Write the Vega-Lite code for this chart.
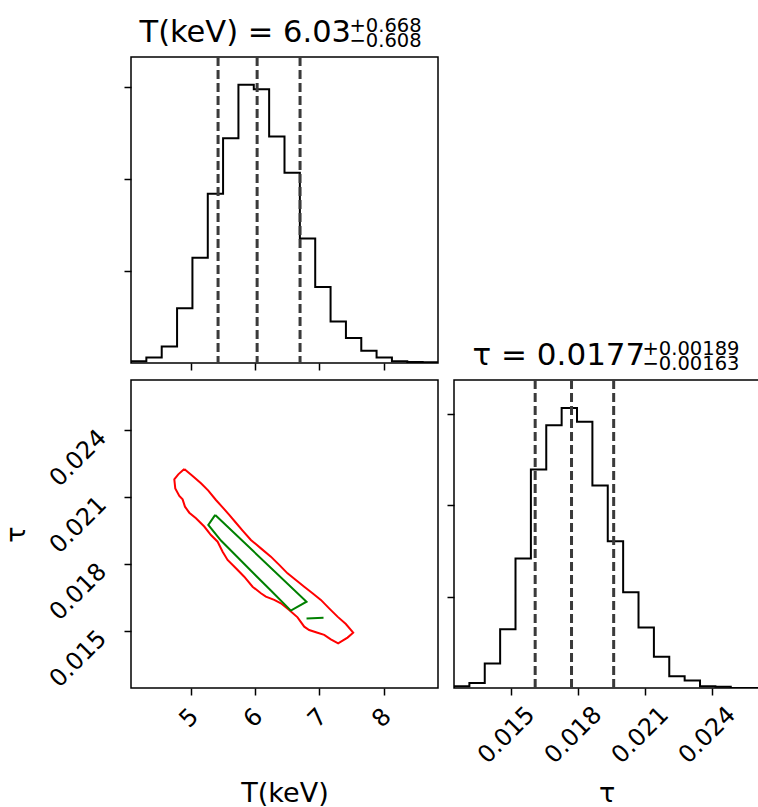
{
  "$schema": "https://vega.github.io/schema/vega-lite/v6.json",
  "padding": {"left": 1, "top": 14, "right": 0, "bottom": 0},
  "config": {
    "font": "DejaVu Sans",
    "view": {"stroke": "black", "strokeWidth": 1.5},
    "axis": {
      "grid": false, "domain": false,
      "tickColor": "black", "tickSize": 7, "tickWidth": 1.5,
      "labelFont": "DejaVu Sans", "labelFontSize": 24, "labelColor": "black",
      "labelOverlap": false, "labelFlush": false, "labelBound": false,
      "titleFont": "DejaVu Sans", "titleFontSize": 27, "titleFontWeight": "normal", "titleColor": "black"
    }
  },
  "datasets": {
    "T_hist": [
      {"i": 0, "edge": 4.067, "count": 0},
      {"i": 1, "edge": 4.067, "count": 18},
      {"i": 2, "edge": 4.306, "count": 61},
      {"i": 3, "edge": 4.545, "count": 181},
      {"i": 4, "edge": 4.784, "count": 596},
      {"i": 5, "edge": 5.023, "count": 1146},
      {"i": 6, "edge": 5.262, "count": 1843},
      {"i": 7, "edge": 5.500, "count": 2447},
      {"i": 8, "edge": 5.739, "count": 3029},
      {"i": 9, "edge": 5.978, "count": 2982},
      {"i": 10, "edge": 6.217, "count": 2465},
      {"i": 11, "edge": 6.456, "count": 2071},
      {"i": 12, "edge": 6.695, "count": 1355},
      {"i": 13, "edge": 6.934, "count": 828},
      {"i": 14, "edge": 7.173, "count": 452},
      {"i": 15, "edge": 7.412, "count": 271},
      {"i": 16, "edge": 7.651, "count": 134},
      {"i": 17, "edge": 7.889, "count": 61},
      {"i": 18, "edge": 8.128, "count": 18},
      {"i": 19, "edge": 8.367, "count": 11},
      {"i": 20, "edge": 8.606, "count": 7},
      {"i": 21, "edge": 8.845, "count": 0}
    ],
    "tau_hist": [
      {"i": 0, "edge": 0.01243, "count": 0},
      {"i": 1, "edge": 0.01243, "count": 18},
      {"i": 2, "edge": 0.01312, "count": 55},
      {"i": 3, "edge": 0.013809, "count": 269},
      {"i": 4, "edge": 0.014499, "count": 644},
      {"i": 5, "edge": 0.015188, "count": 1417},
      {"i": 6, "edge": 0.015878, "count": 2392},
      {"i": 7, "edge": 0.016567, "count": 2878},
      {"i": 8, "edge": 0.017257, "count": 3066},
      {"i": 9, "edge": 0.017946, "count": 2915},
      {"i": 10, "edge": 0.018636, "count": 2219},
      {"i": 11, "edge": 0.019325, "count": 1608},
      {"i": 12, "edge": 0.020015, "count": 1049},
      {"i": 13, "edge": 0.020704, "count": 662},
      {"i": 14, "edge": 0.021394, "count": 342},
      {"i": 15, "edge": 0.022083, "count": 129},
      {"i": 16, "edge": 0.022773, "count": 81},
      {"i": 17, "edge": 0.023462, "count": 18},
      {"i": 18, "edge": 0.024152, "count": 15},
      {"i": 19, "edge": 0.024841, "count": 0},
      {"i": 20, "edge": 0.02622, "count": 0}
    ],
    "T_q": [{"q": 5.422}, {"q": 6.03}, {"q": 6.698}],
    "tau_q": [{"q": 0.01607}, {"q": 0.0177}, {"q": 0.01959}],
    "contours": [
      {"path": "r", "level": "outer", "i": 0, "T": 4.896, "tau": 0.02225},
      {"path": "r", "level": "outer", "i": 1, "T": 5.026, "tau": 0.02194},
      {"path": "r", "level": "outer", "i": 2, "T": 5.156, "tau": 0.02161},
      {"path": "r", "level": "outer", "i": 3, "T": 5.270, "tau": 0.02128},
      {"path": "r", "level": "outer", "i": 4, "T": 5.389, "tau": 0.02086},
      {"path": "r", "level": "outer", "i": 5, "T": 5.493, "tau": 0.02053},
      {"path": "r", "level": "outer", "i": 6, "T": 5.596, "tau": 0.02019},
      {"path": "r", "level": "outer", "i": 7, "T": 5.700, "tau": 0.01984},
      {"path": "r", "level": "outer", "i": 8, "T": 5.804, "tau": 0.01949},
      {"path": "r", "level": "outer", "i": 9, "T": 5.933, "tau": 0.01907},
      {"path": "r", "level": "outer", "i": 10, "T": 6.089, "tau": 0.01869},
      {"path": "r", "level": "outer", "i": 11, "T": 6.244, "tau": 0.01832},
      {"path": "r", "level": "outer", "i": 12, "T": 6.374, "tau": 0.01795},
      {"path": "r", "level": "outer", "i": 13, "T": 6.503, "tau": 0.01757},
      {"path": "r", "level": "outer", "i": 14, "T": 6.633, "tau": 0.01727},
      {"path": "r", "level": "outer", "i": 15, "T": 6.763, "tau": 0.01697},
      {"path": "r", "level": "outer", "i": 16, "T": 6.892, "tau": 0.01668},
      {"path": "r", "level": "outer", "i": 17, "T": 7.022, "tau": 0.01638},
      {"path": "r", "level": "outer", "i": 18, "T": 7.151, "tau": 0.01600},
      {"path": "r", "level": "outer", "i": 19, "T": 7.281, "tau": 0.01563},
      {"path": "r", "level": "outer", "i": 20, "T": 7.411, "tau": 0.01530},
      {"path": "r", "level": "outer", "i": 21, "T": 7.525, "tau": 0.01491},
      {"path": "r", "level": "outer", "i": 22, "T": 7.437, "tau": 0.01469},
      {"path": "r", "level": "outer", "i": 23, "T": 7.291, "tau": 0.01443},
      {"path": "r", "level": "outer", "i": 24, "T": 7.177, "tau": 0.01461},
      {"path": "r", "level": "outer", "i": 25, "T": 7.074, "tau": 0.01481},
      {"path": "r", "level": "outer", "i": 26, "T": 6.970, "tau": 0.01491},
      {"path": "r", "level": "outer", "i": 27, "T": 6.840, "tau": 0.01503},
      {"path": "r", "level": "outer", "i": 28, "T": 6.763, "tau": 0.01518},
      {"path": "r", "level": "outer", "i": 29, "T": 6.659, "tau": 0.01560},
      {"path": "r", "level": "outer", "i": 30, "T": 6.529, "tau": 0.01593},
      {"path": "r", "level": "outer", "i": 31, "T": 6.400, "tau": 0.01623},
      {"path": "r", "level": "outer", "i": 32, "T": 6.296, "tau": 0.01638},
      {"path": "r", "level": "outer", "i": 33, "T": 6.166, "tau": 0.01653},
      {"path": "r", "level": "outer", "i": 34, "T": 6.089, "tau": 0.01668},
      {"path": "r", "level": "outer", "i": 35, "T": 5.959, "tau": 0.01697},
      {"path": "r", "level": "outer", "i": 36, "T": 5.829, "tau": 0.01742},
      {"path": "r", "level": "outer", "i": 37, "T": 5.700, "tau": 0.01780},
      {"path": "r", "level": "outer", "i": 38, "T": 5.570, "tau": 0.01817},
      {"path": "r", "level": "outer", "i": 39, "T": 5.493, "tau": 0.01854},
      {"path": "r", "level": "outer", "i": 40, "T": 5.415, "tau": 0.01899},
      {"path": "r", "level": "outer", "i": 41, "T": 5.311, "tau": 0.01929},
      {"path": "r", "level": "outer", "i": 42, "T": 5.207, "tau": 0.01967},
      {"path": "r", "level": "outer", "i": 43, "T": 5.078, "tau": 0.02004},
      {"path": "r", "level": "outer", "i": 44, "T": 4.974, "tau": 0.02029},
      {"path": "r", "level": "outer", "i": 45, "T": 4.907, "tau": 0.02056},
      {"path": "r", "level": "outer", "i": 46, "T": 4.870, "tau": 0.02089},
      {"path": "r", "level": "outer", "i": 47, "T": 4.819, "tau": 0.02104},
      {"path": "r", "level": "outer", "i": 48, "T": 4.756, "tau": 0.02138},
      {"path": "r", "level": "outer", "i": 49, "T": 4.741, "tau": 0.02179},
      {"path": "r", "level": "outer", "i": 50, "T": 4.803, "tau": 0.02201},
      {"path": "r", "level": "outer", "i": 51, "T": 4.896, "tau": 0.02225},
      {"path": "g1", "level": "inner", "i": 0, "T": 5.378, "tau": 0.02019},
      {"path": "g1", "level": "inner", "i": 1, "T": 5.270, "tau": 0.01974},
      {"path": "g1", "level": "inner", "i": 2, "T": 5.467, "tau": 0.01904},
      {"path": "g1", "level": "inner", "i": 3, "T": 5.726, "tau": 0.01829},
      {"path": "g1", "level": "inner", "i": 4, "T": 5.985, "tau": 0.01754},
      {"path": "g1", "level": "inner", "i": 5, "T": 6.244, "tau": 0.01680},
      {"path": "g1", "level": "inner", "i": 6, "T": 6.555, "tau": 0.01590},
      {"path": "g1", "level": "inner", "i": 7, "T": 6.799, "tau": 0.01630},
      {"path": "g1", "level": "inner", "i": 8, "T": 5.378, "tau": 0.02019},
      {"path": "g2", "level": "inner", "i": 0, "T": 6.799, "tau": 0.01555},
      {"path": "g2", "level": "inner", "i": 1, "T": 7.063, "tau": 0.01558}
    ]
  },
  "columns": 2,
  "bounds": "flush",
  "align": "all",
  "spacing": {"row": 15, "column": 16},
  "concat": [
    {
      "width": 307, "height": 306,
      "layer": [
        {
          "data": {"name": "T_hist"},
          "mark": {"type": "line", "interpolate": "step-after", "color": "black", "strokeWidth": 2, "clip": true},
          "encoding": {
            "x": {"field": "edge", "type": "quantitative",
                  "scale": {"domain": [4.067, 8.845], "nice": false, "zero": false},
                  "axis": {"values": [5, 6, 7, 8], "labels": false, "title": null}},
            "y": {"field": "count", "type": "quantitative",
                  "scale": {"domain": [0, 3332], "nice": false},
                  "axis": {"values": [1000, 2000, 3000], "labels": false,
                           "title": ["+0.668", "−0.608"], "titleX": 218, "titleY": -26, "titleAngle": 0,
                           "titleAlign": "left", "titleBaseline": "alphabetic", "titleFontSize": 19.5, "titleLineHeight": 15.5}},
            "order": {"field": "i", "type": "quantitative"}
          }
        },
        {
          "data": {"name": "T_q"},
          "mark": {"type": "rule", "color": "#3a3a3a", "strokeWidth": 3, "strokeDash": [9, 4]},
          "encoding": {
            "x": {"field": "q", "type": "quantitative",
                  "scale": {"domain": [4.067, 8.845], "nice": false, "zero": false},
                  "axis": {"orient": "top", "ticks": false, "labels": false, "domain": false,
                           "title": "T(keV) = 6.03", "titleX": 8, "titleY": -16,
                           "titleAlign": "left", "titleBaseline": "alphabetic", "titleFontSize": 30.5}}
          }
        }
      ],
      "resolve": {"axis": {"x": "independent"}}
    },
    {
      "width": 305, "height": 306,
      "data": {"values": []},
      "mark": "point",
      "view": {"stroke": null}
    },
    {
      "width": 307, "height": 308,
      "data": {"name": "contours"},
      "mark": {"type": "line", "strokeWidth": 2, "clip": true},
      "encoding": {
        "x": {"field": "T", "type": "quantitative",
              "scale": {"domain": [4.067, 8.845], "nice": false, "zero": false},
              "axis": {"values": [5, 6, 7, 8], "format": "d", "labelAngle": -45, "labelAlign": "center",
                       "labelBaseline": "middle", "labelPadding": 23, "labelOffset": -2,
                       "title": "T(keV)", "titleX": 153.5, "titleY": 113, "titleAlign": "center", "titleBaseline": "alphabetic"}},
        "y": {"field": "tau", "type": "quantitative",
              "scale": {"domain": [0.01243, 0.02624], "nice": false, "zero": false},
              "axis": {"values": [0.015, 0.018, 0.021, 0.024], "format": ".3f", "labelAngle": -45, "labelAlign": "center",
                       "labelBaseline": "middle", "labelPadding": 46, "labelOffset": 28,
                       "title": "τ", "titleX": -107, "titleY": 154, "titleAngle": -90, "titleAlign": "center", "titleBaseline": "alphabetic"}},
        "color": {"field": "level", "type": "nominal",
                  "scale": {"domain": ["outer", "inner"], "range": ["#ff0000", "#008000"]}, "legend": null},
        "detail": {"field": "path", "type": "nominal"},
        "order": {"field": "i", "type": "quantitative"}
      }
    },
    {
      "width": 305, "height": 308,
      "layer": [
        {
          "data": {"name": "tau_hist"},
          "mark": {"type": "line", "interpolate": "step-after", "color": "black", "strokeWidth": 2, "clip": true},
          "encoding": {
            "x": {"field": "edge", "type": "quantitative",
                  "scale": {"domain": [0.01243, 0.026107], "nice": false, "zero": false},
                  "axis": {"values": [0.015, 0.018, 0.021, 0.024], "format": ".3f", "labelAngle": -45, "labelAlign": "center",
                           "labelBaseline": "middle", "labelPadding": 40, "labelOffset": -5,
                           "title": "τ", "titleX": 152.5, "titleY": 113, "titleAlign": "center", "titleBaseline": "alphabetic"}},
            "y": {"field": "count", "type": "quantitative",
                  "scale": {"domain": [0, 3373], "nice": false},
                  "axis": {"values": [1000, 2000, 3000], "labels": false,
                           "title": ["+0.00189", "−0.00163"], "titleX": 188, "titleY": -26, "titleAngle": 0,
                           "titleAlign": "left", "titleBaseline": "alphabetic", "titleFontSize": 19.5, "titleLineHeight": 15.5}},
            "order": {"field": "i", "type": "quantitative"}
          }
        },
        {
          "data": {"name": "tau_q"},
          "mark": {"type": "rule", "color": "#3a3a3a", "strokeWidth": 3, "strokeDash": [9, 4]},
          "encoding": {
            "x": {"field": "q", "type": "quantitative",
                  "scale": {"domain": [0.01243, 0.026107], "nice": false, "zero": false},
                  "axis": {"orient": "top", "ticks": false, "labels": false, "domain": false,
                           "title": "τ = 0.0177", "titleX": 18, "titleY": -16,
                           "titleAlign": "left", "titleBaseline": "alphabetic", "titleFontSize": 31}}
          }
        }
      ],
      "resolve": {"axis": {"x": "independent"}}
    }
  ]
}
